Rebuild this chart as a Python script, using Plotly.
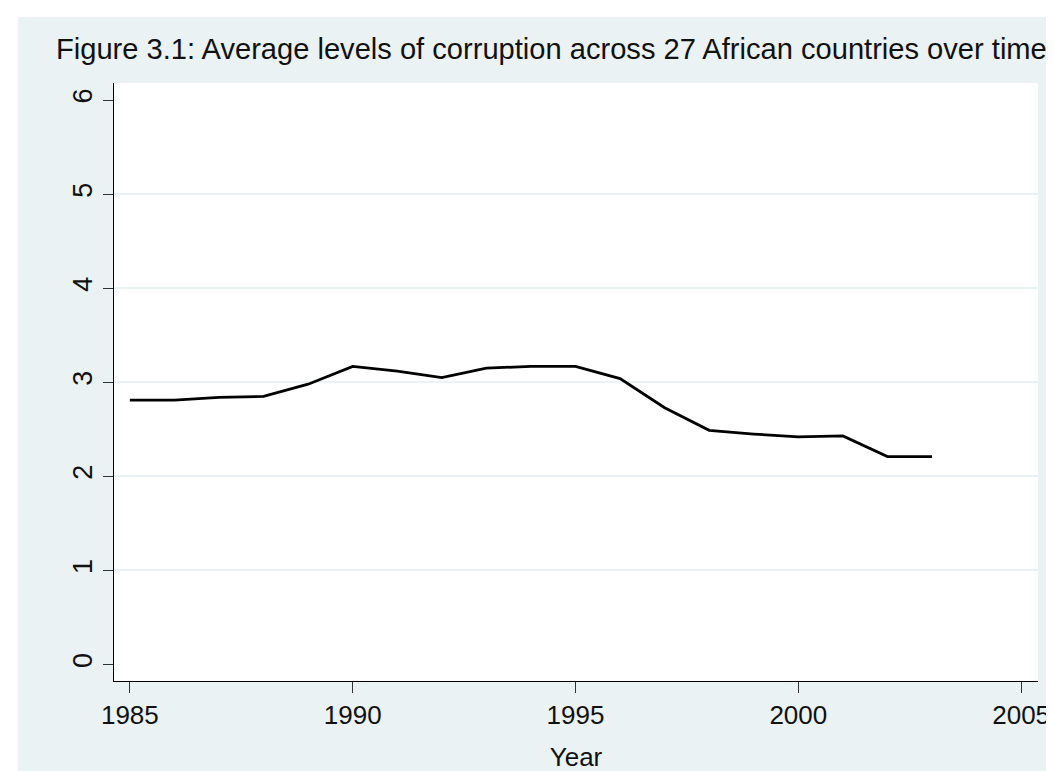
import plotly.graph_objects as go

years = list(range(1985, 2004))
corruption = [2.81, 2.81, 2.84, 2.85, 2.98, 3.17, 3.12, 3.05, 3.15, 3.17,
              3.17, 3.04, 2.73, 2.49, 2.45, 2.42, 2.43, 2.21, 2.21]
x_ticks = [1985, 1990, 1995, 2000, 2005]
y_ticks = [0, 1, 2, 3, 4, 5, 6]
grid_vals = [1, 2, 3, 4, 5]

title_text = "Figure 3.1: Average levels of corruption across 27 African countries over time"

W, H = 1054, 771
L, R, T, B = 106, 16, 75, 98
BG = "#EAF2F3"
FONT = "Liberation Sans, Arial, sans-serif"

fig = go.Figure()
fig.add_trace(go.Scatter(x=years, y=corruption, mode="lines",
                         line=dict(color="black", width=2.8), showlegend=False))
# invisible trace on secondary axis to carry gridlines
fig.add_trace(go.Scatter(x=[years[0]], y=[corruption[0]], yaxis="y2", mode="markers",
                         marker=dict(opacity=0), showlegend=False, hoverinfo="skip"))

pw = W - L - R
ph = H - T - B
# white border strips (top and left) outside the tinted background
fig.add_shape(type="rect", xref="paper", yref="paper", layer="below",
              x0=-(L + 5) / pw, x1=(W + 5 - L) / pw,
              y0=1 + (T - 9) / ph, y1=1 + (T + 5) / ph,
              fillcolor="white", line=dict(width=0))
fig.add_shape(type="rect", xref="paper", yref="paper", layer="below",
              x0=-(L + 5) / pw, x1=(9 - L) / pw,
              y0=-(B + 5) / ph, y1=1 + (T + 5) / ph,
              fillcolor="white", line=dict(width=0))

fig.update_layout(
    width=W, height=H,
    margin=dict(l=L, r=R, t=T, b=B),
    paper_bgcolor=BG, plot_bgcolor="white",
    font=dict(family=FONT, color="#111"),
    title=dict(text=title_text, xref="container", yref="container",
               x=48 / W, xanchor="left", y=1 - 31 / H, yanchor="top",
               font=dict(size=29.1, color="#111", family=FONT)),
    xaxis=dict(range=[1984.644, 2005.378], tickvals=x_ticks, ticks="outside",
               ticklen=11, tickwidth=1, tickcolor="#333",
               showline=True, linecolor="black", linewidth=1.3,
               showgrid=False, zeroline=False,
               tickfont=dict(size=26, family=FONT, color="#111"),
               title=dict(text="Year", font=dict(size=26, family=FONT, color="#111"), standoff=18)),
    yaxis=dict(range=[-0.175, 6.182], tickvals=y_ticks, ticks="outside",
               ticklen=10, tickwidth=1, tickcolor="#333", tickangle=-90,
               showline=True, linecolor="black", linewidth=1.3,
               showgrid=False, zeroline=False,
               tickfont=dict(size=27, family=FONT, color="#111")),
    yaxis2=dict(range=[-0.175, 6.182], overlaying="y", side="left",
                tickvals=grid_vals, showticklabels=False, ticks="",
                showgrid=True, gridcolor=BG, gridwidth=1.6,
                showline=False, zeroline=False),
)

fig.write_html("out.html")
